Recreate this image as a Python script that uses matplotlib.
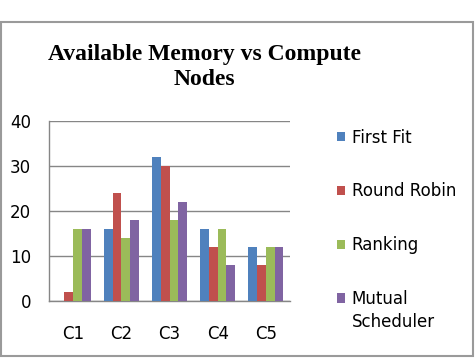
import matplotlib
matplotlib.use("Agg")
import matplotlib.pyplot as plt
import numpy as np
from matplotlib.patches import Rectangle

categories = ["C1", "C2", "C3", "C4", "C5"]
series_names = ["First Fit", "Round Robin", "Ranking", "Mutual Scheduler"]
first_fit = [0, 16, 32, 16, 12]
round_robin = [2, 24, 30, 12, 8]
ranking = [16, 14, 18, 16, 12]
mutual = [16, 18, 22, 8, 12]
colors = ["#4F81BD", "#C0504D", "#9BBB59", "#8064A2"]
yticks = [0, 10, 20, 30, 40]

W, H = 476, 358
fig = plt.figure(figsize=(W / 100, H / 100), dpi=100)
fig.patch.set_facecolor("white")

# outer border
fig.add_artist(Rectangle((0.5 / W, 1 - 356 / H), 472.5 / W, (356 - 22) / H,
                         transform=fig.transFigure, fill=False,
                         edgecolor="#9a9a9a", linewidth=1.5))

ax = fig.add_axes([49 / W, 1 - 301 / H, (290 - 49) / W, (301 - 121) / H])
data = [first_fit, round_robin, ranking, mutual]
x = np.arange(len(categories))
bw = 1 / 5.5
handles = []
for i, (vals, c) in enumerate(zip(data, colors)):
    b = ax.bar(x - 1.5 * bw + i * bw, vals, width=bw, color=c, zorder=3)
    handles.append(b)

ax.set_xlim(-0.5, 4.5)
ax.set_ylim(0, 40)
ax.set_yticks(yticks)
ax.set_xticks(x)
ax.set_xticklabels(categories)
ax.tick_params(axis="both", length=0, labelsize=12, colors="black")
ax.tick_params(axis="y", pad=13)
ax.tick_params(axis="x", pad=17)
for lab in ax.get_xticklabels() + ax.get_yticklabels():
    lab.set_fontfamily("DejaVu Sans")
ax.yaxis.grid(True, color="#868686", linewidth=1, zorder=0)
ax.set_axisbelow(True)
for s in ["top", "right"]:
    ax.spines[s].set_visible(False)
for s in ["left", "bottom"]:
    ax.spines[s].set_color("#868686")
    ax.spines[s].set_linewidth(1)

fig.text(204 / W, 1 - 67 / H, "Available Memory vs Compute\nNodes",
         ha="center", va="center", fontsize=17, fontweight="bold",
         family="Liberation Serif", linespacing=1.3)

# legend: first word of multi-word last label on first line, rest below
leg_labels = series_names[:3] + [series_names[3].split(" ")[0]]
leg = fig.legend([h[0] for h in handles], leg_labels,
                 loc="upper left", bbox_to_anchor=(330 / W, 1 - 122 / H),
                 frameon=False, fontsize=12, handlelength=0.5, handleheight=0.5,
                 handletextpad=0.4, labelspacing=2.15, borderaxespad=0)
fig.canvas.draw()
t = leg.get_texts()[3]
bb = t.get_window_extent()
fig.text(bb.x0 / W, (bb.y0 - 5) / H, series_names[3].split(" ", 1)[1],
         ha="left", va="top", fontsize=12, family="DejaVu Sans")

fig.savefig("out.png", dpi=100)
